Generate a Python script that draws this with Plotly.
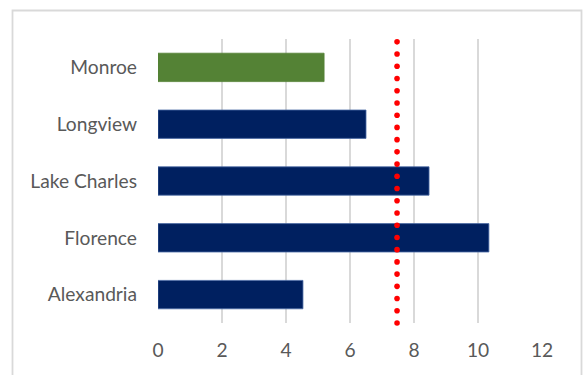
import numpy as np
import plotly.graph_objects as go

# Category data (bottom to top)
cities = ["Alexandria", "Florence", "Lake Charles", "Longview", "Monroe"]
values = [4.53, 10.34, 8.47, 6.50, 5.19]
bar_colors = ["#002060", "#002060", "#002060", "#002060", "#548235"]

# Reference marker drawn as a dotted vertical line
reference_value = 7.47

x_ticks = [0, 2, 4, 6, 8, 10, 12]

W, H = 586, 375
ML, MR, MT, MB = 158, 44, 39, 52
pw, ph = W - ML - MR, H - MT - MB

fig = go.Figure()

fig.add_trace(go.Bar(
    y=cities, x=values, orientation="h",
    marker=dict(color=bar_colors,
                line=dict(color=["#4a6aa5"] * 4 + ["#548235"], width=0.8)),
    showlegend=False, hoverinfo="skip",
))

# Dotted reference line on an overlay axis spanning the plot height
n_dots = 24
dot_y = np.linspace(0.0, 0.99, n_dots)
fig.add_trace(go.Scatter(
    x=[reference_value] * n_dots, y=dot_y, yaxis="y2",
    mode="markers", marker=dict(color="#ff0000", size=5.6),
    cliponaxis=False, showlegend=False, hoverinfo="skip",
))

font_family = "Lato, 'Open Sans', sans-serif"
fig.update_layout(
    width=W, height=H,
    margin=dict(l=ML, r=MR, t=MT, b=MB),
    paper_bgcolor="white", plot_bgcolor="white",
    bargap=0.5,
    font=dict(family=font_family, size=19.2, color="#595959"),
    xaxis=dict(range=[0, 12], tickvals=x_ticks, showgrid=True,
               gridcolor="#d9d9d9", gridwidth=2, zeroline=False,
               showline=False, ticks="", ticklabelstandoff=14,
               tickfont=dict(size=19.2, color="#595959")),
    yaxis=dict(type="category", categoryorder="array", categoryarray=cities,
               showgrid=False, showline=False, ticks="",
               ticklabelstandoff=20, tickfont=dict(size=19.2, color="#595959")),
    yaxis2=dict(overlaying="y", range=[0, 1], autorange=False,
                showgrid=False, zeroline=False, showticklabels=False,
                showline=False, ticks=""),
    shapes=[dict(type="rect", xref="paper", yref="paper",
                 x0=(12.5 - ML) / pw, x1=(581.5 - ML) / pw,
                 y0=(H - MB - 380) / ph, y1=(H - MB - 10.5) / ph,
                 line=dict(color="#d9d9d9", width=1.8), layer="below")],
)

fig.write_html("out.html")
